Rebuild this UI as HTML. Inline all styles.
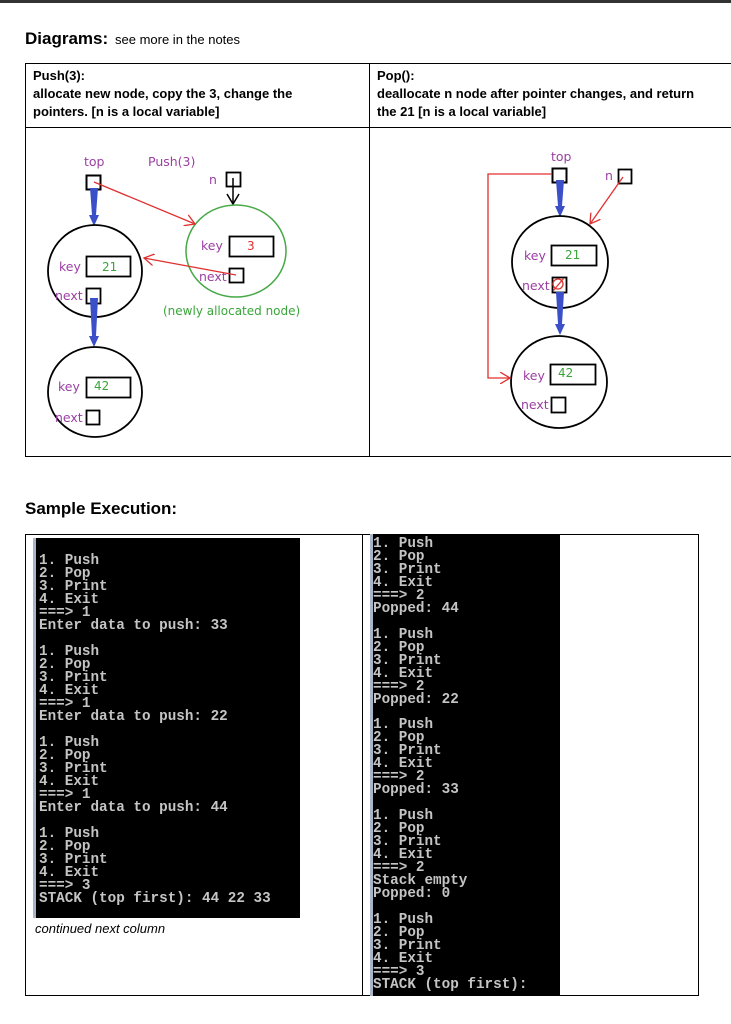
<!DOCTYPE html>
<html><head><meta charset="utf-8"><style>
body{margin:0;background:#fff;}
svg{display:block}
.p{fill:#9b3fa3;font-family:"DejaVu Sans",sans-serif;font-size:12.5px}
.g{fill:#3aa53a;font-family:"DejaVu Sans",sans-serif;font-size:12px}
.h{font-family:"Liberation Sans",sans-serif;font-weight:bold;font-size:13px;fill:#000}
.c{font-family:"Liberation Mono",monospace;font-weight:bold;font-size:14.3px;fill:#c4c4c4}
</style></head><body>
<svg width="731" height="1024" viewBox="0 0 731 1024" xmlns="http://www.w3.org/2000/svg">
<defs>
<marker id="ra" markerWidth="12" markerHeight="12" refX="10" refY="6" orient="auto" markerUnits="userSpaceOnUse"><path d="M0,0 L10,6 L0,12" fill="none" stroke="#e03030" stroke-width="1.3"/></marker>
</defs>
<rect x="0" y="0" width="731" height="3" fill="#333"/>
<text x="25" y="44" font-family="Liberation Sans,sans-serif" font-weight="bold" font-size="17">Diagrams:</text>
<text x="115" y="44" font-family="Liberation Sans,sans-serif" font-size="13">see more in the notes</text>
<rect x="25.5" y="63.5" width="720" height="393" fill="none" stroke="#000"/>
<line x1="25" y1="127.5" x2="731" y2="127.5" stroke="#000"/>
<line x1="369.5" y1="63" x2="369.5" y2="457" stroke="#000"/>
<text class="h" x="33" y="80">Push(3):</text>
<text class="h" x="33" y="98">allocate new node, copy the 3, change the</text>
<text class="h" x="33" y="116">pointers. [n is a local variable]</text>
<text class="h" x="377" y="80">Pop():</text>
<text class="h" x="377" y="98">deallocate n node after pointer changes, and return</text>
<text class="h" x="377" y="116">the 21 [n is a local variable]</text>
<g fill="none" stroke-width="1.8">
<text class="p" x="84" y="166">top</text>
<text class="p" x="148" y="166">Push(3)</text>
<rect x="86.5" y="175.5" width="14" height="14" stroke="#000" stroke-width="2"/>
<path d="M90,188 L98,188 L96,215 L99,215 L94,226 L89,215 L92,215 Z" fill="#3a4fc8" stroke="none"/>
<ellipse cx="95" cy="271" rx="47" ry="46" stroke="#000"/>
<text class="p" x="59" y="271">key</text>
<rect x="86.5" y="256.5" width="44" height="20" stroke="#000"/>
<text class="g" x="102" y="271">21</text>
<text class="p" x="55" y="300">next</text>
<rect x="86.5" y="288.5" width="14" height="15" stroke="#000"/>
<path d="M90,298 L98,298 L96,336 L99,336 L94,347 L89,336 L92,336 Z" fill="#3a4fc8" stroke="none"/>
<ellipse cx="95" cy="392" rx="47" ry="45" stroke="#000"/>
<text class="p" x="58" y="391">key</text>
<rect x="86.5" y="377.5" width="44" height="20" stroke="#000"/>
<text class="g" x="94" y="390">42</text>
<text class="p" x="55" y="422">next</text>
<rect x="86.5" y="410.5" width="13" height="14" stroke="#000"/>
<text class="p" x="209" y="184">n</text>
<rect x="226.5" y="172.5" width="14" height="14" stroke="#000"/>
<line x1="233" y1="178" x2="233" y2="204" stroke="#000" stroke-width="1.5"/>
<path d="M227,194 L233,204 L239,194" stroke="#000" stroke-width="1.5"/>
<ellipse cx="236" cy="251" rx="50" ry="46" stroke="#46a846" stroke-width="1.5"/>
<text class="p" x="201" y="250">key</text>
<rect x="229.5" y="236.5" width="44" height="20" stroke="#000"/>
<text x="247" y="250" font-family="DejaVu Sans,sans-serif" font-size="12" fill="#e03030">3</text>
<text class="p" x="199" y="281">next</text>
<rect x="229.5" y="268.5" width="14" height="14" stroke="#000"/>
<text class="g" x="163" y="315">(newly allocated node)</text>
<line x1="94" y1="182" x2="195" y2="224" stroke="#e03030" stroke-width="1.3" marker-end="url(#ra)"/>
<line x1="236" y1="275" x2="144" y2="258" stroke="#e03030" stroke-width="1.3" marker-end="url(#ra)"/>
</g>
<g fill="none" stroke-width="1.8">
<text class="p" x="551" y="161">top</text>
<rect x="552.5" y="168.5" width="14" height="14" stroke="#000" stroke-width="2"/>
<path d="M556,180 L564,180 L562,206 L565,206 L560,217 L555,206 L558,206 Z" fill="#3a4fc8" stroke="none"/>
<ellipse cx="560" cy="262" rx="48" ry="46" stroke="#000"/>
<text class="p" x="524" y="260">key</text>
<rect x="551.5" y="245.5" width="45" height="20" stroke="#000"/>
<text class="g" x="565" y="259">21</text>
<text class="p" x="522" y="290">next</text>
<rect x="552.5" y="277.5" width="14" height="15" stroke="#000"/>
<circle cx="558" cy="284" r="5" stroke="#e03030" stroke-width="1.3"/>
<line x1="553" y1="291" x2="564" y2="278" stroke="#e03030" stroke-width="1.3"/>
<path d="M556,292 L564,292 L562,324 L565,324 L560,335 L555,324 L558,324 Z" fill="#3a4fc8" stroke="none"/>
<ellipse cx="559" cy="382" rx="48" ry="46" stroke="#000"/>
<text class="p" x="523" y="380">key</text>
<rect x="550.5" y="364.5" width="45" height="20" stroke="#000"/>
<text class="g" x="558" y="377">42</text>
<text class="p" x="521" y="409">next</text>
<rect x="551.5" y="397.5" width="14" height="15" stroke="#000"/>
<text class="p" x="605" y="180">n</text>
<rect x="618.5" y="169.5" width="13" height="14" stroke="#000"/>
<line x1="623" y1="177" x2="590" y2="224" stroke="#e03030" stroke-width="1.3" marker-end="url(#ra)"/>
<path d="M552,174 L488,174 L488,378 L510,378" stroke="#e03030" stroke-width="1.3" marker-end="url(#ra)"/>
</g>
<text x="25" y="514" font-family="Liberation Sans,sans-serif" font-weight="bold" font-size="17">Sample Execution:</text>
<rect x="25.5" y="534.5" width="673" height="461" fill="none" stroke="#000"/>
<line x1="362.5" y1="534" x2="362.5" y2="996" stroke="#000"/>
<rect x="33" y="538" width="267" height="380" fill="#000"/>
<rect x="33" y="538" width="3" height="380" fill="#a8b4c8"/>
<rect x="370" y="534" width="190" height="462" fill="#000"/>
<rect x="370" y="534" width="3" height="462" fill="#a8b4c8"/>
<g class="c">
<text x="39" y="564">1. Push</text><text x="39" y="577">2. Pop</text><text x="39" y="590">3. Print</text><text x="39" y="603">4. Exit</text><text x="39" y="616">===&gt; 1</text><text x="39" y="629">Enter data to push: 33</text>
<text x="39" y="655">1. Push</text><text x="39" y="668">2. Pop</text><text x="39" y="681">3. Print</text><text x="39" y="694">4. Exit</text><text x="39" y="707">===&gt; 1</text><text x="39" y="720">Enter data to push: 22</text>
<text x="39" y="746">1. Push</text><text x="39" y="759">2. Pop</text><text x="39" y="772">3. Print</text><text x="39" y="785">4. Exit</text><text x="39" y="798">===&gt; 1</text><text x="39" y="811">Enter data to push: 44</text>
<text x="39" y="837">1. Push</text><text x="39" y="850">2. Pop</text><text x="39" y="863">3. Print</text><text x="39" y="876">4. Exit</text><text x="39" y="889">===&gt; 3</text><text x="39" y="902">STACK (top first): 44 22 33</text>
<text x="373" y="547">1. Push</text><text x="373" y="560">2. Pop</text><text x="373" y="573">3. Print</text><text x="373" y="586">4. Exit</text><text x="373" y="599">===&gt; 2</text><text x="373" y="612">Popped: 44</text>
<text x="373" y="638">1. Push</text><text x="373" y="651">2. Pop</text><text x="373" y="664">3. Print</text><text x="373" y="677">4. Exit</text><text x="373" y="690">===&gt; 2</text><text x="373" y="703">Popped: 22</text>
<text x="373" y="728">1. Push</text><text x="373" y="741">2. Pop</text><text x="373" y="754">3. Print</text><text x="373" y="767">4. Exit</text><text x="373" y="780">===&gt; 2</text><text x="373" y="793">Popped: 33</text>
<text x="373" y="819">1. Push</text><text x="373" y="832">2. Pop</text><text x="373" y="845">3. Print</text><text x="373" y="858">4. Exit</text><text x="373" y="871">===&gt; 2</text><text x="373" y="884">Stack empty</text><text x="373" y="897">Popped: 0</text>
<text x="373" y="923">1. Push</text><text x="373" y="936">2. Pop</text><text x="373" y="949">3. Print</text><text x="373" y="962">4. Exit</text><text x="373" y="975">===&gt; 3</text><text x="373" y="988">STACK (top first):</text>
</g>
<text x="35" y="933" font-family="Liberation Sans,sans-serif" font-style="italic" font-size="13">continued next column</text>
</svg>
</body></html>
